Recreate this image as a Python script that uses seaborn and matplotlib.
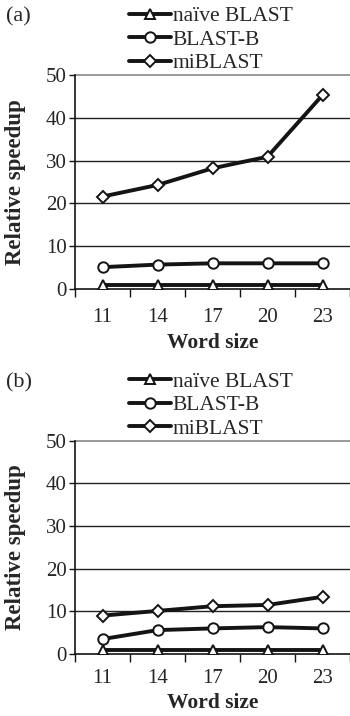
import numpy as np
import pandas as pd
import matplotlib
matplotlib.use("Agg")
import matplotlib.pyplot as plt
import seaborn as sns

words = ["11", "14", "17", "20", "23"]
methods = ["naïve BLAST", "BLAST-B", "miBLAST"]
a_naive = [0.9, 0.9, 0.9, 0.9, 0.9]
a_blastb = [5.1, 5.7, 6.0, 6.0, 6.0]
a_mi = [21.6, 24.3, 28.2, 30.9, 45.3]
b_naive = [0.9, 0.9, 0.9, 0.9, 0.9]
b_blastb = [3.5, 5.6, 6.0, 6.3, 6.0]
b_mi = [9.0, 10.1, 11.2, 11.5, 13.4]
yticks = [0, 10, 20, 30, 40, 50]
panel_labels = ["(a)", "(b)"]

sns.set_theme(style="white")
plt.rcParams["font.family"] = ["Liberation Serif", "DejaVu Serif"]

W, H = 350, 716
fig = plt.figure(figsize=(W / 100, H / 100), dpi=100)

markers = {"naïve BLAST": "^", "BLAST-B": "o", "miBLAST": "D"}
msizes = {"naïve BLAST": 7.5, "BLAST-B": 7.5, "miBLAST": 6.5}
LC = "#141414"

panels = [
    (panel_labels[0], [a_naive, a_blastb, a_mi], 75, 289, 54, 14),
    (panel_labels[1], [b_naive, b_blastb, b_mi], 440.7, 654, 49, 10.5),
]

pos = np.arange(len(words))
for label, series, top, bottom, xl_off, tpad in panels:
    ax = fig.add_axes([75 / W, 1 - bottom / H, 275 / W, (bottom - top) / H])
    for m, vals in zip(methods, series):
        sns.lineplot(x=pos, y=vals, ax=ax, label=m, color=LC, linewidth=2.8,
                     marker=markers[m], markersize=msizes[m],
                     markerfacecolor="white", markeredgecolor=LC,
                     markeredgewidth=1.4, zorder=3)
    ax.set_xlim(-0.5, 4.45)
    ax.set_ylim(0, 50)
    ax.set_yticks(yticks)
    ax.set_yticklabels([str(t) for t in yticks], fontsize=15)
    ax.set_xticks(pos)
    ax.set_xticklabels(words, fontsize=15)
    ax.set_xticks(np.arange(-0.5, 4.6, 1.0), minor=True)
    ax.tick_params(axis="x", which="major", length=0, pad=tpad)
    ax.tick_params(axis="x", which="minor", length=6, width=1.0, color=LC, direction="out", bottom=True)
    ax.tick_params(axis="y", which="major", length=4, width=1.0, color=LC, direction="out", left=True, pad=2)
    for t in yticks[1:-1]:
        ax.axhline(t, color="#222222", linewidth=1.0, zorder=1)
    ax.axhline(50, color="#888888", linewidth=1.2, zorder=1, clip_on=False)
    for s in ["top", "right"]:
        ax.spines[s].set_visible(False)
    for s in ["left", "bottom"]:
        ax.spines[s].set_color(LC)
        ax.spines[s].set_linewidth(1.2)
    ax.set_xlabel("Word size", fontsize=15.5, fontweight="bold", va="center")
    ax.xaxis.set_label_coords((213 - 75) / 275, -xl_off / (bottom - top))
    ax.set_ylabel("Relative speedup", fontsize=16.5, fontweight="bold", va="center")
    ax.yaxis.set_label_coords(-(75 - 16) / 275, 0.5)
    handles, labs = ax.get_legend_handles_labels()
    ax.get_legend().remove()
    fig.legend(handles, labs, loc="upper left",
               bbox_to_anchor=(129 / W, 1 - (top - 69) / H),
               frameon=False, fontsize=15.5, handlelength=1.95, handletextpad=0.08,
               labelspacing=0.16, borderpad=0, borderaxespad=0)
    fig.text(6 / W, 1 - (top - 58) / H, label, fontsize=16, va="center", ha="left")

fig.savefig("out.png", dpi=100)
